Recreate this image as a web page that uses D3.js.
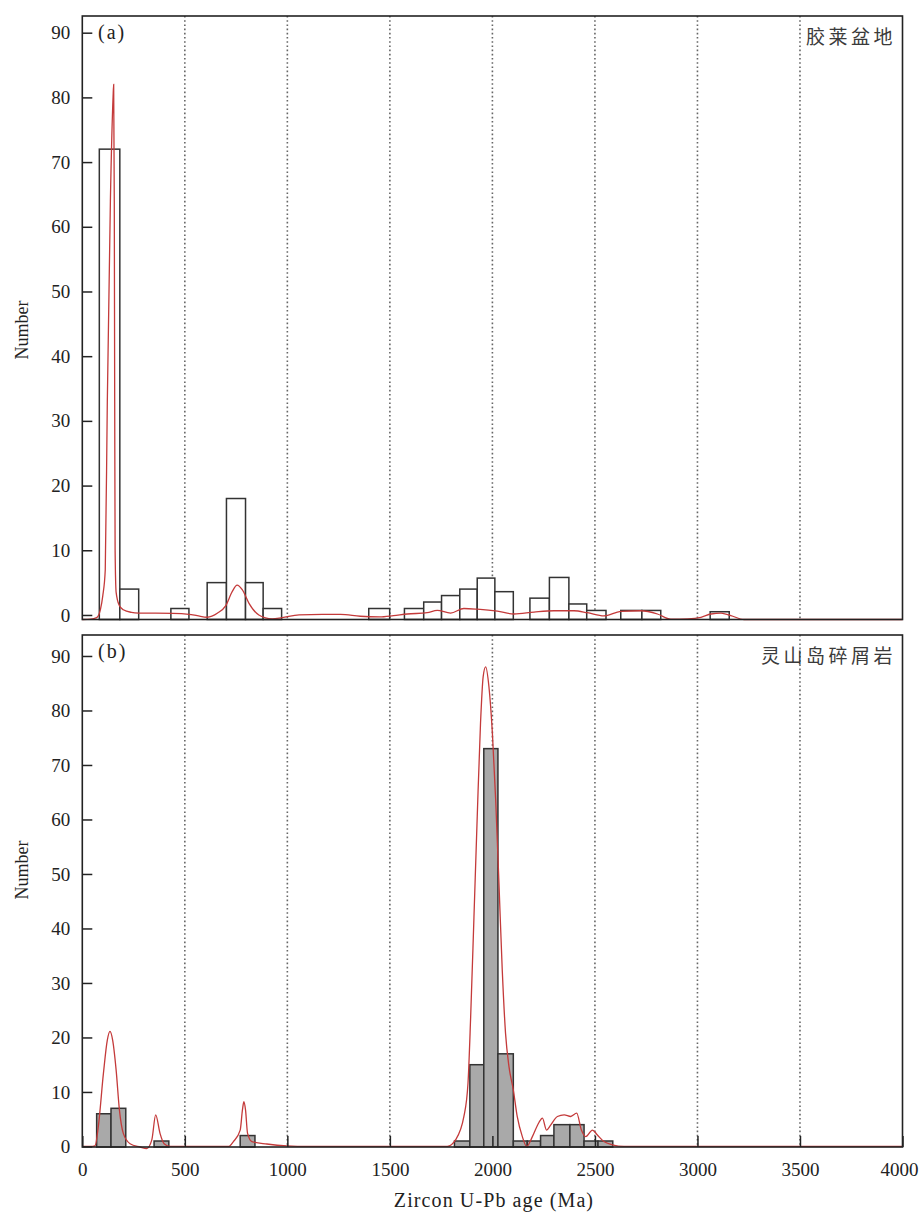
<!DOCTYPE html>
<html>
<head>
<meta charset="utf-8">
<script src="https://cdn.jsdelivr.net/npm/d3@7"></script>
<style>
  html, body { margin: 0; padding: 0; background: #fff; }
  svg { display: block; }
</style>
</head>
<body>
<svg id="chart" width="919" height="1212"></svg>
<script>
// ---------------- DATA ----------------
const xTicks = [0, 500, 1000, 1500, 2000, 2500, 3000, 3500, 4000];
const gridAges = [500, 1000, 1500, 2000, 2500, 3000, 3500];
const yTicks = [0, 10, 20, 30, 40, 50, 60, 70, 80, 90];

const panelLabelA = "(a)";
const panelLabelB = "(b)";
const regionA = "胶莱盆地";
const regionB = "灵山岛碎屑岩";
const yTitle = "Number";
const xTitle = "Zircon U-Pb age (Ma)";

// Panel (a) histogram bins (age from, age to, count)
const binLoA  = [83, 183, 432, 609, 703, 796, 882, 1397, 1571, 1665, 1752, 1841, 1926, 2012, 2183, 2278, 2373, 2460, 2626, 2729, 3062];
const binHiA  = [183, 275, 520, 703, 796, 882, 972, 1499, 1665, 1752, 1841, 1926, 2012, 2102, 2278, 2373, 2460, 2554, 2729, 2821, 3155];
const countA  = [72, 4, 1, 5, 18, 5, 1, 1, 1, 2, 3, 4, 5.7, 3.6, 2.6, 5.8, 1.7, 0.7, 0.7, 0.7, 0.5];

// Panel (a) probability density curve
const kdeAgeA = [0, 40, 70, 88, 100, 112, 122, 137, 150, 153, 156, 158, 160, 165, 180, 200, 240, 275, 440, 520, 560, 609, 660, 699, 731, 755, 780, 813, 861, 926, 975, 1057, 1170, 1260, 1356, 1450, 1518, 1585, 1682, 1731, 1796, 1861, 1926, 2024, 2105, 2203, 2300, 2398, 2463, 2544, 2626, 2724, 2805, 2870, 2952, 3017, 3066, 3115, 3163, 3228, 4000];
const kdeValA = [-0.7, -0.65, -0.4, 0.8, 3, 7, 33, 64, 80, 82, 64, 33, 10, 3.5, 1.5, 0.8, 0.4, 0.3, 0.25, 0.1, -0.1, -0.35, 0.3, 1.4, 3.6, 4.6, 3.9, 1.8, 0, -0.6, -0.4, 0, 0.1, 0.1, -0.2, -0.3, -0.1, 0.15, 0.35, 0.7, 0.3, 1.0, 0.9, 0.6, 0.15, 0.45, 0.65, 0.65, 0.35, -0.15, 0.55, 0.65, 0.15, -0.65, -0.6, -0.36, 0.15, 0.3, -0.1, -0.7, -0.7];

// Panel (b) histogram bins
const binLoB  = [70, 140, 350, 770, 1815, 1890, 1958, 2027, 2102, 2170, 2235, 2300, 2378, 2447, 2515];
const binHiB  = [140, 212, 422, 842, 1890, 1958, 2027, 2102, 2170, 2235, 2300, 2378, 2447, 2515, 2587];
const countB  = [6, 7, 1, 2, 1, 15, 73, 17, 1, 1, 2, 4, 4, 1, 1];

// Panel (b) probability density curve
const kdeAgeB = [0, 50, 62, 78, 103, 122, 135, 148, 165, 181, 200, 233, 282, 314, 339, 358, 379, 399, 428, 713, 737, 770, 781, 788, 796, 806, 827, 900, 998, 1100, 1780, 1820, 1861, 1881, 1894, 1910, 1926, 1942, 1955, 1967, 1983, 2000, 2016, 2032, 2048, 2064, 2081, 2102, 2121, 2146, 2167, 2195, 2227, 2244, 2264, 2284, 2317, 2350, 2382, 2411, 2434, 2455, 2488, 2512, 2544, 2585, 2642, 4000];
const kdeValB = [0, 0, 0.1, 3.6, 13.4, 19.5, 21.1, 19.5, 14, 6.7, 2.4, 0.5, -0.1, -0.4, 1.2, 5.8, 2.4, 0.5, 0, 0, 0.9, 3, 6.7, 8.2, 6.7, 2.4, 0.9, 0.45, 0.1, 0, 0, 1.2, 5.5, 11.6, 23.8, 42, 60.5, 77.6, 86.2, 88, 84.4, 75.8, 63.6, 48.3, 32.4, 20.8, 14.6, 10.4, 5.5, 1.8, 0, 1.8, 4.4, 5.2, 3, 3.9, 5.5, 5.8, 5.5, 6.1, 3, 1.8, 3, 2.1, 0.9, 0.3, 0, 0];

// ---------------- DRAWING ----------------
const svg = d3.select("#chart");
const serif = "'Liberation Serif', 'DejaVu Serif', serif";
const cjk = "'Noto Sans CJK SC', 'Noto Sans CJK JP', sans-serif";

const x = d3.scaleLinear().domain([0, 4000]).range([82.3, 902.5]);

const panels = [
  { lo: binLoA, hi: binHiA, n: countA, ka: kdeAgeA, kv: kdeValA,
    y: d3.scaleLinear().domain([-0.7, 92.58]).range([619.5, 16]),
    fill: "#ffffff", label: panelLabelA, region: regionA, titleY: 330, xAxis: false },
  { lo: binLoB, hi: binHiB, n: countB, ka: kdeAgeB, kv: kdeValB,
    y: d3.scaleLinear().domain([-0.1, 93.85]).range([1147, 635]),
    fill: "#a9a9a9", label: panelLabelB, region: regionB, titleY: 870, xAxis: true }
];

panels.forEach(p => {
  const y = p.y;
  const [yBottom, yTop] = y.range();
  const g = svg.append("g");

  // dotted vertical grid
  g.selectAll("line.grid").data(gridAges).join("line")
    .attr("class", "grid")
    .attr("x1", d => x(d)).attr("x2", d => x(d))
    .attr("y1", yTop).attr("y2", yBottom)
    .attr("stroke", "#666").attr("stroke-width", 1.6)
    .attr("stroke-dasharray", "1.6,2.6");

  // histogram bars
  const bins = p.n.map((c, i) => ({ lo: p.lo[i], hi: p.hi[i], c }));
  g.selectAll("rect.bar").data(bins).join("rect")
    .attr("class", "bar")
    .attr("x", d => x(d.lo))
    .attr("width", d => x(d.hi) - x(d.lo))
    .attr("y", d => y(d.c))
    .attr("height", d => yBottom - y(d.c))
    .attr("fill", p.fill)
    .attr("stroke", "#333").attr("stroke-width", 1.5);

  // density curve
  const line = d3.line()
    .x((d, i) => x(p.ka[i]))
    .y(d => y(d))
    .curve(d3.curveMonotoneX);
  g.append("path").datum(p.kv)
    .attr("d", line)
    .attr("fill", "none")
    .attr("stroke", "#c43a3a").attr("stroke-width", 1.3);

  // y axis (inward ticks)
  const ya = g.append("g").attr("transform", `translate(${x(0)},0)`)
    .call(d3.axisLeft(y).tickValues(yTicks).tickSize(-10).tickPadding(12).tickFormat(d3.format("d")));
  ya.select(".domain").remove();
  ya.selectAll(".tick line").attr("stroke", "#222").attr("stroke-width", 1.5);
  ya.selectAll(".tick text").attr("font-family", serif).attr("font-size", 19).attr("fill", "#222");

  // x axis ticks at bottom of lower panel
  if (p.xAxis) {
    const xa = g.append("g").attr("transform", `translate(0,${yBottom})`)
      .call(d3.axisBottom(x).tickValues(xTicks).tickSize(-11).tickPadding(16).tickFormat(d3.format("d")));
    xa.select(".domain").remove();
    xa.selectAll(".tick line").attr("stroke", "#222").attr("stroke-width", 1.5);
    xa.selectAll(".tick text").attr("font-family", serif).attr("font-size", 19).attr("fill", "#222");
    // keep the last label inside the page edge, as in the reference
    xa.selectAll(".tick text").filter(d => d === 4000)
      .attr("text-anchor", "end").attr("x", 918 - x(4000));
  }

  // frame
  g.append("rect")
    .attr("x", x.range()[0]).attr("y", yTop)
    .attr("width", x.range()[1] - x.range()[0]).attr("height", yBottom - yTop)
    .attr("fill", "none").attr("stroke", "#222").attr("stroke-width", 1.6);

  // panel label
  g.append("text")
    .attr("x", 98).attr("y", yTop + 16).attr("dy", "0.35em")
    .attr("font-family", serif).attr("font-size", 20).attr("letter-spacing", 2)
    .attr("fill", "#222").text(p.label);

  // region label
  g.append("text")
    .attr("x", 896).attr("y", yTop + 21).attr("dy", "0.35em")
    .attr("text-anchor", "end")
    .attr("font-family", cjk).attr("font-size", 19).attr("letter-spacing", 3.5)
    .attr("fill", "#3a3a3a").text(p.region);

  // y title
  g.append("text")
    .attr("transform", `translate(22,${p.titleY}) rotate(-90)`)
    .attr("text-anchor", "middle").attr("dy", "0.35em")
    .attr("font-family", serif).attr("font-size", 18)
    .attr("fill", "#222").text(yTitle);
});

// x title
svg.append("text")
  .attr("x", 494).attr("y", 1200).attr("dy", "0.35em")
  .attr("text-anchor", "middle")
  .attr("font-family", serif).attr("font-size", 20).attr("letter-spacing", 1.1)
  .attr("fill", "#222").text(xTitle);
</script>
</body>
</html>
